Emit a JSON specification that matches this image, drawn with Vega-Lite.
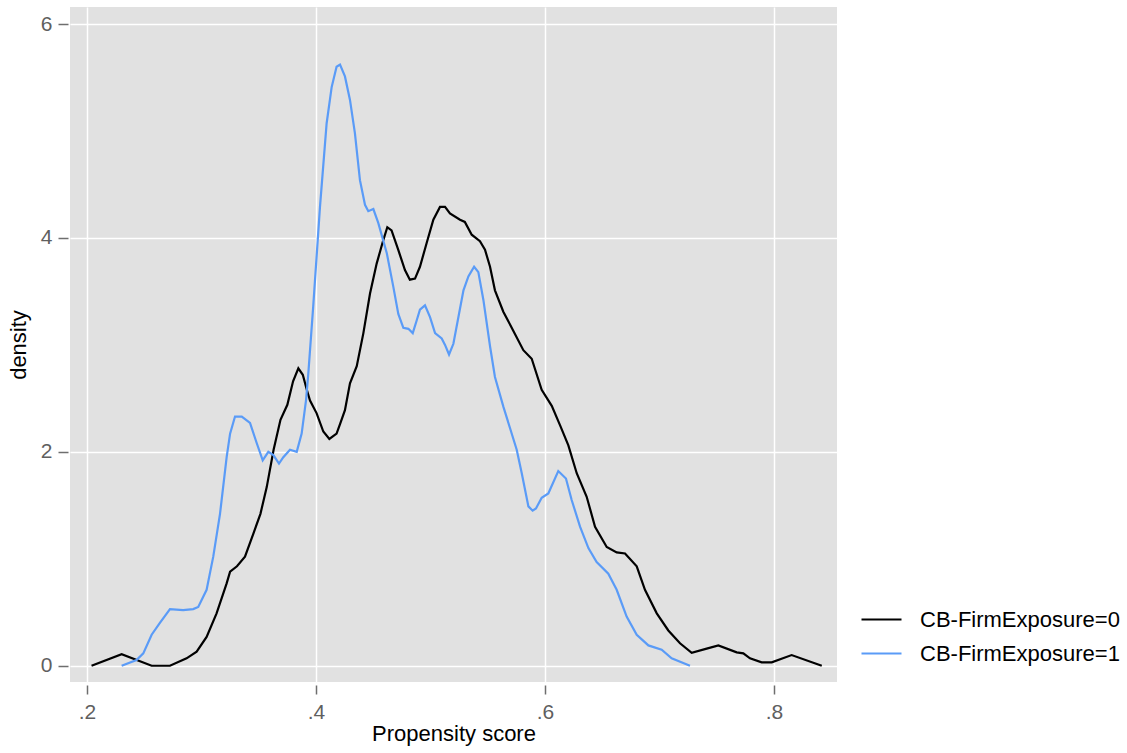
{
  "$schema": "https://vega.github.io/schema/vega-lite/v6.json",
  "width": 767,
  "height": 675,
  "autosize": {"type": "none"},
  "padding": {"left": 70, "top": 7, "right": 290, "bottom": 71},
  "background": "white",
  "config": {
    "font": "Liberation Sans",
    "view": {"fill": "#e1e1e1", "stroke": null},
    "axis": {
      "domain": false,
      "grid": true,
      "gridColor": "#ffffff",
      "gridWidth": 1.5,
      "tickColor": "#6e6e6e",
      "tickWidth": 1.5,
      "labelColor": "#5f5f5f",
      "labelFontSize": 21,
      "labelFont": "Liberation Sans",
      "titleFont": "Liberation Sans",
      "titleFontSize": 22,
      "titleFontWeight": "normal",
      "titleColor": "#000000"
    }
  },
  "data": {
    "values": [
      {"x": 0.204, "y": 0, "g": "CB-FirmExposure=0"},
      {"x": 0.2303, "y": 0.107, "g": "CB-FirmExposure=0"},
      {"x": 0.2565, "y": 0, "g": "CB-FirmExposure=0"},
      {"x": 0.2725, "y": 0, "g": "CB-FirmExposure=0"},
      {"x": 0.287, "y": 0.069, "g": "CB-FirmExposure=0"},
      {"x": 0.2958, "y": 0.131, "g": "CB-FirmExposure=0"},
      {"x": 0.3045, "y": 0.27, "g": "CB-FirmExposure=0"},
      {"x": 0.3132, "y": 0.49, "g": "CB-FirmExposure=0"},
      {"x": 0.322, "y": 0.77, "g": "CB-FirmExposure=0"},
      {"x": 0.325, "y": 0.88, "g": "CB-FirmExposure=0"},
      {"x": 0.331, "y": 0.93, "g": "CB-FirmExposure=0"},
      {"x": 0.338, "y": 1.02, "g": "CB-FirmExposure=0"},
      {"x": 0.3455, "y": 1.24, "g": "CB-FirmExposure=0"},
      {"x": 0.3515, "y": 1.42, "g": "CB-FirmExposure=0"},
      {"x": 0.357, "y": 1.67, "g": "CB-FirmExposure=0"},
      {"x": 0.363, "y": 2.02, "g": "CB-FirmExposure=0"},
      {"x": 0.369, "y": 2.3, "g": "CB-FirmExposure=0"},
      {"x": 0.375, "y": 2.44, "g": "CB-FirmExposure=0"},
      {"x": 0.38, "y": 2.66, "g": "CB-FirmExposure=0"},
      {"x": 0.3846, "y": 2.78, "g": "CB-FirmExposure=0"},
      {"x": 0.3885, "y": 2.72, "g": "CB-FirmExposure=0"},
      {"x": 0.392, "y": 2.58, "g": "CB-FirmExposure=0"},
      {"x": 0.3948, "y": 2.48, "g": "CB-FirmExposure=0"},
      {"x": 0.4006, "y": 2.36, "g": "CB-FirmExposure=0"},
      {"x": 0.4064, "y": 2.19, "g": "CB-FirmExposure=0"},
      {"x": 0.4117, "y": 2.12, "g": "CB-FirmExposure=0"},
      {"x": 0.418, "y": 2.17, "g": "CB-FirmExposure=0"},
      {"x": 0.421, "y": 2.26, "g": "CB-FirmExposure=0"},
      {"x": 0.4253, "y": 2.39, "g": "CB-FirmExposure=0"},
      {"x": 0.4297, "y": 2.64, "g": "CB-FirmExposure=0"},
      {"x": 0.4356, "y": 2.8, "g": "CB-FirmExposure=0"},
      {"x": 0.4414, "y": 3.11, "g": "CB-FirmExposure=0"},
      {"x": 0.4472, "y": 3.48, "g": "CB-FirmExposure=0"},
      {"x": 0.453, "y": 3.76, "g": "CB-FirmExposure=0"},
      {"x": 0.4588, "y": 3.98, "g": "CB-FirmExposure=0"},
      {"x": 0.4623, "y": 4.1, "g": "CB-FirmExposure=0"},
      {"x": 0.466, "y": 4.07, "g": "CB-FirmExposure=0"},
      {"x": 0.4718, "y": 3.89, "g": "CB-FirmExposure=0"},
      {"x": 0.4777, "y": 3.7, "g": "CB-FirmExposure=0"},
      {"x": 0.482, "y": 3.61, "g": "CB-FirmExposure=0"},
      {"x": 0.4865, "y": 3.62, "g": "CB-FirmExposure=0"},
      {"x": 0.4908, "y": 3.73, "g": "CB-FirmExposure=0"},
      {"x": 0.4966, "y": 3.95, "g": "CB-FirmExposure=0"},
      {"x": 0.5025, "y": 4.17, "g": "CB-FirmExposure=0"},
      {"x": 0.5083, "y": 4.29, "g": "CB-FirmExposure=0"},
      {"x": 0.5127, "y": 4.29, "g": "CB-FirmExposure=0"},
      {"x": 0.517, "y": 4.23, "g": "CB-FirmExposure=0"},
      {"x": 0.5258, "y": 4.17, "g": "CB-FirmExposure=0"},
      {"x": 0.53, "y": 4.15, "g": "CB-FirmExposure=0"},
      {"x": 0.536, "y": 4.03, "g": "CB-FirmExposure=0"},
      {"x": 0.5432, "y": 3.97, "g": "CB-FirmExposure=0"},
      {"x": 0.5476, "y": 3.89, "g": "CB-FirmExposure=0"},
      {"x": 0.552, "y": 3.73, "g": "CB-FirmExposure=0"},
      {"x": 0.5563, "y": 3.51, "g": "CB-FirmExposure=0"},
      {"x": 0.5636, "y": 3.31, "g": "CB-FirmExposure=0"},
      {"x": 0.5724, "y": 3.13, "g": "CB-FirmExposure=0"},
      {"x": 0.5811, "y": 2.95, "g": "CB-FirmExposure=0"},
      {"x": 0.5884, "y": 2.87, "g": "CB-FirmExposure=0"},
      {"x": 0.5971, "y": 2.58, "g": "CB-FirmExposure=0"},
      {"x": 0.6059, "y": 2.43, "g": "CB-FirmExposure=0"},
      {"x": 0.6131, "y": 2.25, "g": "CB-FirmExposure=0"},
      {"x": 0.6204, "y": 2.06, "g": "CB-FirmExposure=0"},
      {"x": 0.6277, "y": 1.8, "g": "CB-FirmExposure=0"},
      {"x": 0.6364, "y": 1.58, "g": "CB-FirmExposure=0"},
      {"x": 0.6437, "y": 1.3, "g": "CB-FirmExposure=0"},
      {"x": 0.6539, "y": 1.11, "g": "CB-FirmExposure=0"},
      {"x": 0.6626, "y": 1.06, "g": "CB-FirmExposure=0"},
      {"x": 0.6699, "y": 1.05, "g": "CB-FirmExposure=0"},
      {"x": 0.6801, "y": 0.93, "g": "CB-FirmExposure=0"},
      {"x": 0.6873, "y": 0.71, "g": "CB-FirmExposure=0"},
      {"x": 0.6976, "y": 0.49, "g": "CB-FirmExposure=0"},
      {"x": 0.7077, "y": 0.33, "g": "CB-FirmExposure=0"},
      {"x": 0.7179, "y": 0.21, "g": "CB-FirmExposure=0"},
      {"x": 0.7281, "y": 0.12, "g": "CB-FirmExposure=0"},
      {"x": 0.7412, "y": 0.16, "g": "CB-FirmExposure=0"},
      {"x": 0.7514, "y": 0.19, "g": "CB-FirmExposure=0"},
      {"x": 0.7674, "y": 0.125, "g": "CB-FirmExposure=0"},
      {"x": 0.7732, "y": 0.116, "g": "CB-FirmExposure=0"},
      {"x": 0.779, "y": 0.069, "g": "CB-FirmExposure=0"},
      {"x": 0.7892, "y": 0.032, "g": "CB-FirmExposure=0"},
      {"x": 0.798, "y": 0.032, "g": "CB-FirmExposure=0"},
      {"x": 0.8154, "y": 0.1, "g": "CB-FirmExposure=0"},
      {"x": 0.8417, "y": 0, "g": "CB-FirmExposure=0"},
      {"x": 0.2303, "y": 0, "g": "CB-FirmExposure=1"},
      {"x": 0.2433, "y": 0.053, "g": "CB-FirmExposure=1"},
      {"x": 0.2492, "y": 0.116, "g": "CB-FirmExposure=1"},
      {"x": 0.2565, "y": 0.29, "g": "CB-FirmExposure=1"},
      {"x": 0.2637, "y": 0.4, "g": "CB-FirmExposure=1"},
      {"x": 0.2725, "y": 0.53, "g": "CB-FirmExposure=1"},
      {"x": 0.284, "y": 0.52, "g": "CB-FirmExposure=1"},
      {"x": 0.2928, "y": 0.53, "g": "CB-FirmExposure=1"},
      {"x": 0.2972, "y": 0.55, "g": "CB-FirmExposure=1"},
      {"x": 0.3045, "y": 0.71, "g": "CB-FirmExposure=1"},
      {"x": 0.3103, "y": 1.02, "g": "CB-FirmExposure=1"},
      {"x": 0.3162, "y": 1.42, "g": "CB-FirmExposure=1"},
      {"x": 0.322, "y": 1.95, "g": "CB-FirmExposure=1"},
      {"x": 0.325, "y": 2.17, "g": "CB-FirmExposure=1"},
      {"x": 0.3293, "y": 2.33, "g": "CB-FirmExposure=1"},
      {"x": 0.3352, "y": 2.33, "g": "CB-FirmExposure=1"},
      {"x": 0.3424, "y": 2.27, "g": "CB-FirmExposure=1"},
      {"x": 0.3483, "y": 2.08, "g": "CB-FirmExposure=1"},
      {"x": 0.3535, "y": 1.92, "g": "CB-FirmExposure=1"},
      {"x": 0.3584, "y": 2.0, "g": "CB-FirmExposure=1"},
      {"x": 0.3628, "y": 1.97, "g": "CB-FirmExposure=1"},
      {"x": 0.3677, "y": 1.89, "g": "CB-FirmExposure=1"},
      {"x": 0.3715, "y": 1.95, "g": "CB-FirmExposure=1"},
      {"x": 0.3773, "y": 2.02, "g": "CB-FirmExposure=1"},
      {"x": 0.3832, "y": 2.0, "g": "CB-FirmExposure=1"},
      {"x": 0.3875, "y": 2.17, "g": "CB-FirmExposure=1"},
      {"x": 0.3913, "y": 2.48, "g": "CB-FirmExposure=1"},
      {"x": 0.3933, "y": 2.73, "g": "CB-FirmExposure=1"},
      {"x": 0.3976, "y": 3.36, "g": "CB-FirmExposure=1"},
      {"x": 0.4035, "y": 4.29, "g": "CB-FirmExposure=1"},
      {"x": 0.4093, "y": 5.07, "g": "CB-FirmExposure=1"},
      {"x": 0.4137, "y": 5.41, "g": "CB-FirmExposure=1"},
      {"x": 0.418, "y": 5.6, "g": "CB-FirmExposure=1"},
      {"x": 0.421, "y": 5.62, "g": "CB-FirmExposure=1"},
      {"x": 0.4253, "y": 5.51, "g": "CB-FirmExposure=1"},
      {"x": 0.4297, "y": 5.29, "g": "CB-FirmExposure=1"},
      {"x": 0.434, "y": 4.98, "g": "CB-FirmExposure=1"},
      {"x": 0.4384, "y": 4.54, "g": "CB-FirmExposure=1"},
      {"x": 0.4428, "y": 4.31, "g": "CB-FirmExposure=1"},
      {"x": 0.4457, "y": 4.25, "g": "CB-FirmExposure=1"},
      {"x": 0.4501, "y": 4.27, "g": "CB-FirmExposure=1"},
      {"x": 0.4544, "y": 4.14, "g": "CB-FirmExposure=1"},
      {"x": 0.4618, "y": 3.86, "g": "CB-FirmExposure=1"},
      {"x": 0.4676, "y": 3.54, "g": "CB-FirmExposure=1"},
      {"x": 0.4719, "y": 3.29, "g": "CB-FirmExposure=1"},
      {"x": 0.4763, "y": 3.16, "g": "CB-FirmExposure=1"},
      {"x": 0.4807, "y": 3.15, "g": "CB-FirmExposure=1"},
      {"x": 0.4845, "y": 3.11, "g": "CB-FirmExposure=1"},
      {"x": 0.488, "y": 3.23, "g": "CB-FirmExposure=1"},
      {"x": 0.4908, "y": 3.33, "g": "CB-FirmExposure=1"},
      {"x": 0.4952, "y": 3.37, "g": "CB-FirmExposure=1"},
      {"x": 0.4996, "y": 3.26, "g": "CB-FirmExposure=1"},
      {"x": 0.504, "y": 3.11, "g": "CB-FirmExposure=1"},
      {"x": 0.5098, "y": 3.06, "g": "CB-FirmExposure=1"},
      {"x": 0.5127, "y": 3.0, "g": "CB-FirmExposure=1"},
      {"x": 0.5162, "y": 2.91, "g": "CB-FirmExposure=1"},
      {"x": 0.52, "y": 3.01, "g": "CB-FirmExposure=1"},
      {"x": 0.5244, "y": 3.26, "g": "CB-FirmExposure=1"},
      {"x": 0.5288, "y": 3.51, "g": "CB-FirmExposure=1"},
      {"x": 0.5331, "y": 3.64, "g": "CB-FirmExposure=1"},
      {"x": 0.5381, "y": 3.73, "g": "CB-FirmExposure=1"},
      {"x": 0.5418, "y": 3.68, "g": "CB-FirmExposure=1"},
      {"x": 0.5462, "y": 3.42, "g": "CB-FirmExposure=1"},
      {"x": 0.5521, "y": 2.98, "g": "CB-FirmExposure=1"},
      {"x": 0.5563, "y": 2.7, "g": "CB-FirmExposure=1"},
      {"x": 0.5637, "y": 2.42, "g": "CB-FirmExposure=1"},
      {"x": 0.5753, "y": 2.02, "g": "CB-FirmExposure=1"},
      {"x": 0.5797, "y": 1.8, "g": "CB-FirmExposure=1"},
      {"x": 0.5855, "y": 1.49, "g": "CB-FirmExposure=1"},
      {"x": 0.5892, "y": 1.45, "g": "CB-FirmExposure=1"},
      {"x": 0.5921, "y": 1.47, "g": "CB-FirmExposure=1"},
      {"x": 0.5971, "y": 1.57, "g": "CB-FirmExposure=1"},
      {"x": 0.6029, "y": 1.61, "g": "CB-FirmExposure=1"},
      {"x": 0.6116, "y": 1.82, "g": "CB-FirmExposure=1"},
      {"x": 0.6183, "y": 1.75, "g": "CB-FirmExposure=1"},
      {"x": 0.6233, "y": 1.55, "g": "CB-FirmExposure=1"},
      {"x": 0.6306, "y": 1.3, "g": "CB-FirmExposure=1"},
      {"x": 0.6379, "y": 1.1, "g": "CB-FirmExposure=1"},
      {"x": 0.6451, "y": 0.97, "g": "CB-FirmExposure=1"},
      {"x": 0.6553, "y": 0.86, "g": "CB-FirmExposure=1"},
      {"x": 0.6626, "y": 0.71, "g": "CB-FirmExposure=1"},
      {"x": 0.6713, "y": 0.46, "g": "CB-FirmExposure=1"},
      {"x": 0.6801, "y": 0.29, "g": "CB-FirmExposure=1"},
      {"x": 0.6903, "y": 0.19, "g": "CB-FirmExposure=1"},
      {"x": 0.7019, "y": 0.15, "g": "CB-FirmExposure=1"},
      {"x": 0.7106, "y": 0.07, "g": "CB-FirmExposure=1"},
      {"x": 0.7266, "y": 0, "g": "CB-FirmExposure=1"}
    ]
  },
  "mark": {"type": "line", "strokeWidth": 2.2, "interpolate": "linear"},
  "encoding": {
    "x": {
      "field": "x",
      "type": "quantitative",
      "scale": {"domain": [0.1852, 0.855], "nice": false, "zero": false},
      "axis": {
        "values": [0.2, 0.4, 0.6, 0.8],
        "labelExpr": "replace(format(datum.value, '.1f'), '0.', '.')",
        "offset": 3,
        "tickSize": 9,
        "labelPadding": 7,
        "title": "Propensity score",
        "titlePadding": 1
      }
    },
    "y": {
      "field": "y",
      "type": "quantitative",
      "scale": {"domain": [-0.152, 6.159], "nice": false, "zero": false},
      "axis": {
        "values": [0, 2, 4, 6],
        "format": "d",
        "offset": 2,
        "tickSize": 10,
        "labelPadding": 6,
        "title": "density",
        "titlePadding": 10
      }
    },
    "color": {
      "field": "g",
      "type": "nominal",
      "scale": {"domain": ["CB-FirmExposure=0", "CB-FirmExposure=1"], "range": ["#000000", "#5a9bf7"]},
      "legend": {
        "title": null,
        "orient": "none",
        "legendX": 800,
        "legendY": 601,
        "symbolType": "M-2,0H2",
        "symbolSize": 400,
        "symbolStrokeWidth": 2.2,
        "labelFontSize": 22,
        "labelFont": "Liberation Sans",
        "labelColor": "#000000",
        "labelOffset": 27,
        "labelLimit": 0,
        "rowPadding": 11,
        "padding": 0
      }
    }
  }
}
